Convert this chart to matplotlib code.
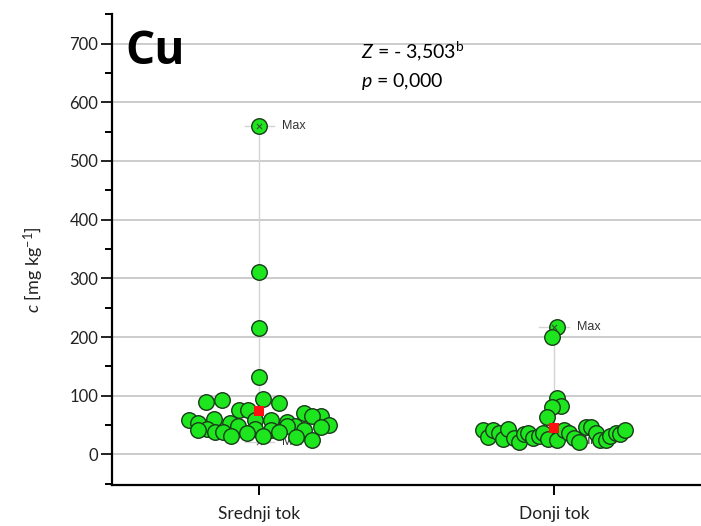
import matplotlib.pyplot as plt
import numpy as np

plt.rcParams["font.family"] = ["Lato", "DejaVu Sans"]
plt.rcParams["mathtext.fontset"] = "custom"
plt.rcParams["mathtext.rm"] = "Lato"
plt.rcParams["mathtext.it"] = "Lato:italic"

categories = ["Srednji tok", "Donji tok"]

# values, with the horizontal jitter (category units) used by the swarm
sred_values = [560, 310, 215, 132, 95, 93, 90, 87, 76, 76, 71, 66, 65, 61, 59, 59, 59, 56, 54,
               53, 51, 49, 48, 48, 46, 44, 44, 42, 41, 41, 39, 39, 39, 37, 32, 31, 29, 24]
sred_jitter = [0.0, 0.0, 0.0, 0.0, 0.014, -0.126, -0.18, 0.068, -0.068, -0.037, 0.15, 0.208,
               0.18, -0.153, -0.238, -0.014, 0.041, 0.095, -0.207, -0.099, 0.238, 0.122,
               -0.071, 0.095, 0.208, -0.177, -0.014, -0.207, 0.041, 0.153, -0.150, -0.122,
               0.068, -0.041, 0.014, -0.095, 0.126, 0.18]

donji_values = [217, 200, 97, 83, 81, 64, 41, 29, 42, 37, 27, 44, 28, 21, 34, 36, 28, 31, 36,
                27, 25, 41, 36, 28, 22, 46, 46, 37, 25, 24, 32, 37, 34, 41]
donji_jitter = [0.010, -0.007, 0.010, 0.024, -0.007, -0.024, -0.241, -0.224, -0.207, -0.187,
                -0.173, -0.156, -0.136, -0.119, -0.102, -0.088, -0.071, -0.051, -0.037, -0.020,
                0.010, 0.034, 0.051, 0.068, 0.085, 0.109, 0.126, 0.143, 0.156, 0.177, 0.190,
                0.211, 0.224, 0.241]

means = [74, 45]
maxima = [560, 217]
minima = [22, 23]

fig = plt.figure(figsize=(7.01, 5.26), dpi=100)
ax = fig.add_axes([0.160, 0.078, 0.840, 0.895])

x = np.arange(1, len(categories) + 1)

for xi, lo, hi in zip(x, minima, maxima):
    ax.plot([xi, xi], [lo, hi], color="#d4d4d4", lw=1.0, zorder=1)
    for v, lab in ((hi, "Max"), (lo, "Min")):
        ax.plot([xi - 0.05, xi + 0.05], [v, v], color="#d4d4d4", lw=1.0, zorder=1)
        ax.text(xi + 0.078, v, lab, fontsize=9, family="Liberation Sans", color="#333333",
                va="center", ha="left", zorder=2 if lab == "Min" else 5)

groups = [(sred_values, sred_jitter), (donji_values, donji_jitter)]
for xi, (vals, jit) in zip(x, groups):
    ax.scatter(xi + np.array(jit), vals, s=125, facecolor="#1ee61e", edgecolor="#1a3a1a",
               linewidth=1.0, zorder=3)

ax.scatter(x, maxima, marker="x", s=14, color="#335533", linewidth=0.8, zorder=4)
ax.scatter(x, minima, marker="x", s=14, color="#666666", linewidth=0.8, zorder=2)
ax.scatter(x, means, marker="s", s=55, color="#ff1010", linewidth=0, zorder=4)

ax.set_xlim(0.5, 2.5)
ax.set_ylim(-52, 750)
ax.set_yticks(np.arange(0, 701, 100))
ax.set_yticks(np.arange(-50, 751, 100), minor=True)
ax.set_xticks(x)
ax.set_xticklabels(categories, fontsize=12.5, color="#222222")
ax.tick_params(axis="y", which="major", length=8, width=1.4, labelsize=12, colors="#222222", pad=2)
ax.tick_params(axis="y", which="minor", length=5, width=1.4)
ax.tick_params(axis="x", length=7, width=1.4, pad=8)
ax.grid(axis="y", which="major", color="#c8c8c8", lw=1.3, zorder=0)
ax.set_axisbelow(True)
for side in ("top", "right"):
    ax.spines[side].set_visible(False)
for side in ("left", "bottom"):
    ax.spines[side].set_linewidth(1.6)

ax.set_ylabel(r"$\mathit{c}$ [mg kg$^{-1}$]", fontsize=13, color="#222222")
ax.yaxis.set_label_coords(-0.113, 0.458)

ax.text(0.022, 0.921, "Cu", transform=ax.transAxes, fontsize=33, fontweight="bold",
        family="Open Sans", va="center", ha="left")
ax.text(0.423, 0.922, r"$\mathit{Z}$ = - 3,503$^{\mathrm{b}}$", transform=ax.transAxes,
        fontsize=14, va="center", ha="left")
ax.text(0.423, 0.858, r"$\mathit{p}$ = 0,000", transform=ax.transAxes,
        fontsize=14, va="center", ha="left")

fig.savefig("out.png", dpi=100)
